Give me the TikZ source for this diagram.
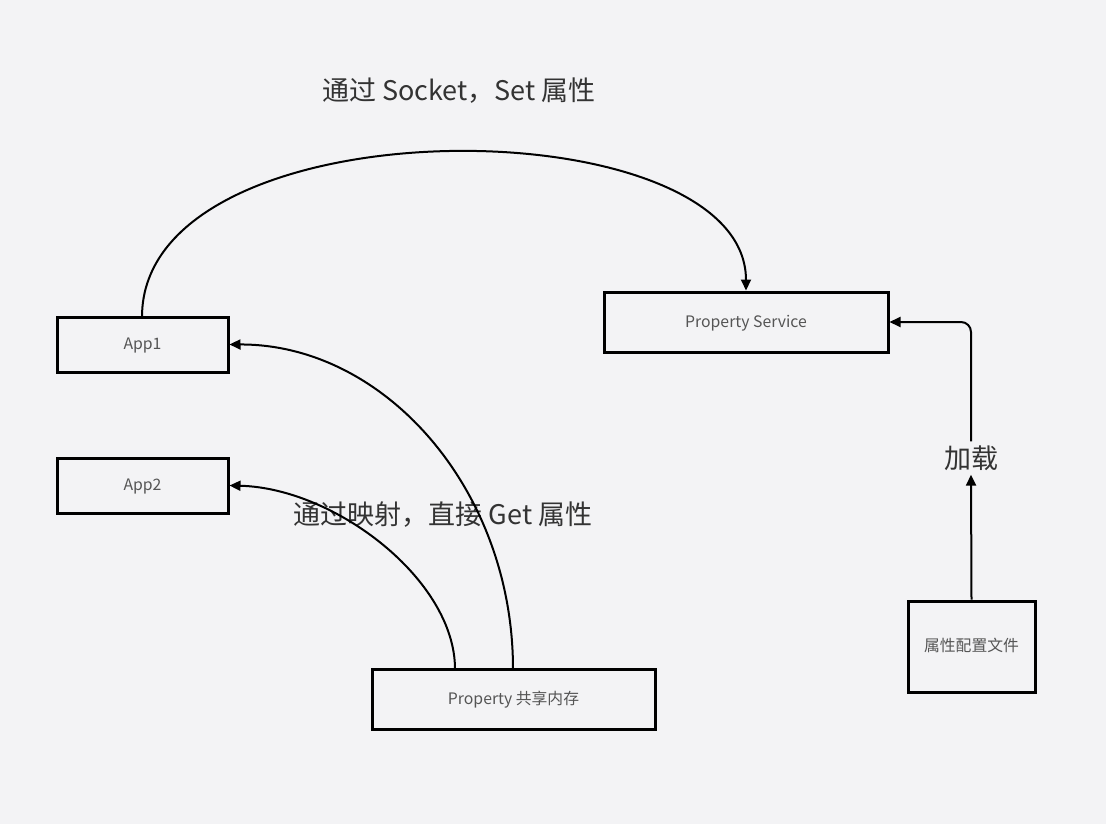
\documentclass[tikz,border=0pt]{standalone}
\usepackage{fontspec}
\setmainfont{Noto Sans CJK SC}
\usetikzlibrary{arrows.meta}
\definecolor{bg}{HTML}{F3F3F5}
\definecolor{boxtext}{HTML}{555555}
\definecolor{labeltext}{HTML}{333333}
\tikzset{
  box/.style={draw=black, line width=3pt, fill=none, inner sep=0pt, text=boxtext, font=\fontsize{15.8}{18}\selectfont, text height=12pt, text depth=2pt},
  lbl/.style={text=labeltext, font=\fontsize{27}{31}\selectfont, inner sep=2pt},
  conn/.style={line width=2pt, -{Triangle[length=11pt,width=10pt]}}
}
\begin{document}
\begin{tikzpicture}[x=1pt,y=-1pt]
\useasboundingbox[fill=bg] (0,0) rectangle (1106,824);
\node[box, minimum width=171pt, minimum height=55pt] (app1) at (142.5,344.5) {App1};
\node[box, minimum width=171pt, minimum height=55pt] (app2) at (142.5,485.5) {App2};
\node[box, minimum width=284pt, minimum height=60pt] (ps) at (746,322) {Property Service};
\node[box, minimum width=283pt, minimum height=60pt] (shm) at (513.5,699) {Property 共享内存};
\node[box, minimum width=127pt, minimum height=91pt] (cfg) at (971.5,646.5) {属性配置文件};
\node[lbl] (t1) at (459,91) {通过 Socket，Set 属性};
\node[lbl] (t2) at (443,515) {通过映射，直接 Get 属性};
\node[lbl, inner sep=4pt] (load) at (971,458) {加载};
\coordinate (a1top) at (142,317);
\coordinate (s1) at (513,669);
\coordinate (s2) at (455,669);
\draw[conn] (a1top) .. controls (142,100) and (746,104) .. (ps.north);
\draw[conn] (s1) .. controls (513,490) and (385,344) .. (app1.east);
\draw[conn] (s2) .. controls (455,580) and (335,488) .. (app2.east);
\draw[conn] (cfg.north) -- (load.south);
\draw[conn, rounded corners=10pt] (load.north) |- (ps.east);
\end{tikzpicture}
\end{document}
